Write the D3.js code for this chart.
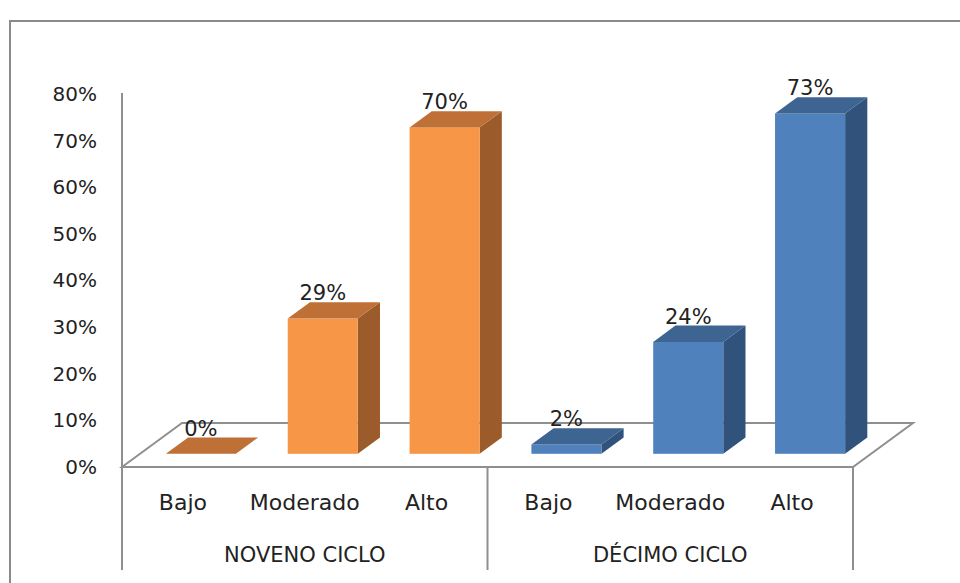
<!DOCTYPE html>
<html>
<head>
<meta charset="utf-8">
<script src="https://cdn.jsdelivr.net/npm/d3@7/dist/d3.min.js"></script>
<style>
  html, body { margin: 0; padding: 0; background: #fff; }
  svg { display: block; }
  text { font-family: "DejaVu Sans", sans-serif; fill: #222; }
</style>
</head>
<body>
<svg id="chart" width="960" height="583"></svg>
<script>
// Levels per cycle and their shares (%)
const levels = ["Bajo", "Moderado", "Alto"];
const groups = ["NOVENO CICLO", "DÉCIMO CICLO"];
const noveno = [0, 29, 70];
const decimo = [2, 24, 73];
const tickValues = [0, 10, 20, 30, 40, 50, 60, 70, 80];

const seriesValues = [noveno, decimo];
const faceColors = [
  { front: "#F79646", top: "#BF7036", side: "#9B5B2A" },
  { front: "#4F81BD", top: "#3E6592", side: "#31527A" }
];

const svg = d3.select("#chart");

// Plot frame
const left = 122, right = 853, floorY = 467, topY = 94;
const depth = { dx: 60, dy: -44 };      // full floor depth (oblique)
const barFront = 0.3, barDepth = 0.37;  // bar position inside the floor depth

// Flatten into one row per bar
const rows = [];
groups.forEach((g, gi) => {
  levels.forEach((l, li) => {
    rows.push({ key: g + "|" + l, group: g, level: l, value: seriesValues[gi][li], gi });
  });
});

const x = d3.scaleBand().domain(rows.map(d => d.key)).range([left, right]).padding(0);
const xGroup = d3.scaleBand().domain(groups).range([left, right]).padding(0);
const y = d3.scaleLinear().domain([0, 80]).range([floorY, topY]);

// Outer chart border
svg.append("rect")
  .attr("x", 10).attr("y", 21)
  .attr("width", 1000).attr("height", 700)
  .attr("fill", "none").attr("stroke", "#8a8a8a").attr("stroke-width", 2);

const lineColor = "#8f8f8f";

// Floor outline
svg.append("path")
  .attr("d", [
    "M", left, floorY,
    "L", left + depth.dx, floorY + depth.dy,
    "L", right + depth.dx, floorY + depth.dy,
    "L", right, floorY,
    "Z"
  ].join(" "))
  .attr("fill", "none").attr("stroke", lineColor).attr("stroke-width", 2);

// Value axis line (continues down as the left category divider)
svg.append("line")
  .attr("x1", left).attr("x2", left)
  .attr("y1", topY - 1).attr("y2", 570)
  .attr("stroke", lineColor).attr("stroke-width", 2);

// Group dividers under the floor
[xGroup(groups[1]), right].forEach(xx => {
  svg.append("line")
    .attr("x1", xx).attr("x2", xx)
    .attr("y1", floorY).attr("y2", 570)
    .attr("stroke", lineColor).attr("stroke-width", 2);
});

// Value axis tick labels
const yAxis = d3.axisLeft(y)
  .tickValues(tickValues)
  .tickFormat(d => d + "%")
  .tickSize(0)
  .tickPadding(25);
const yG = svg.append("g").attr("transform", `translate(${left},0)`).call(yAxis);
yG.select(".domain").remove();
yG.selectAll("text")
  .attr("font-family", "DejaVu Sans, sans-serif")
  .attr("font-size", 20)
  .attr("fill", "#222");

// Category axis labels (levels)
const xAxis = d3.axisBottom(x)
  .tickFormat(k => k.split("|")[1])
  .tickSize(0)
  .tickPadding(27);
const xG = svg.append("g").attr("transform", `translate(0,${floorY})`).call(xAxis);
xG.select(".domain").remove();
xG.selectAll("text")
  .attr("font-family", "DejaVu Sans, sans-serif")
  .attr("font-size", 22)
  .attr("fill", "#222");

// Group labels
const gAxis = d3.axisBottom(xGroup).tickSize(0).tickPadding(80);
const gG = svg.append("g").attr("transform", `translate(0,${floorY})`).call(gAxis);
gG.select(".domain").remove();
gG.selectAll("text")
  .attr("font-family", "DejaVu Sans, sans-serif")
  .attr("font-size", 21)
  .attr("fill", "#222");

// 3D bars
const bw = x.bandwidth() * 0.575;
const fx = depth.dx * barFront, fy = depth.dy * barFront;
const ddx = depth.dx * barDepth, ddy = depth.dy * barDepth;
const pxPerUnit = y(0) - y(1);

const bars = svg.append("g").selectAll("g").data(rows).join("g");

bars.each(function (d) {
  const g = d3.select(this);
  const c = faceColors[d.gi];
  const x0 = x(d.key) + x.bandwidth() / 2 - bw / 2 + fx;
  const x1 = x0 + bw;
  const yb = floorY + fy;                 // front bottom
  const yt = yb - d.value * pxPerUnit;    // front top
  d.labelX = x0 + bw / 2;
  d.labelY = yt + ddy - 2;

  if (d.value > 0) {
    // side face
    g.append("path")
      .attr("d", `M${x1},${yb} L${x1 + ddx},${yb + ddy} L${x1 + ddx},${yt + ddy} L${x1},${yt} Z`)
      .attr("fill", c.side);
    // front face
    g.append("rect")
      .attr("x", x0).attr("y", yt)
      .attr("width", bw).attr("height", yb - yt)
      .attr("fill", c.front);
  }
  // top face
  g.append("path")
    .attr("d", `M${x0},${yt} L${x0 + ddx},${yt + ddy} L${x1 + ddx},${yt + ddy} L${x1},${yt} Z`)
    .attr("fill", c.top);
});

// Value labels
svg.append("g").selectAll("text").data(rows).join("text")
  .attr("x", d => d.labelX)
  .attr("y", d => d.labelY)
  .attr("text-anchor", "middle")
  .attr("font-size", 21)
  .text(d => d.value + "%");
</script>
</body>
</html>
